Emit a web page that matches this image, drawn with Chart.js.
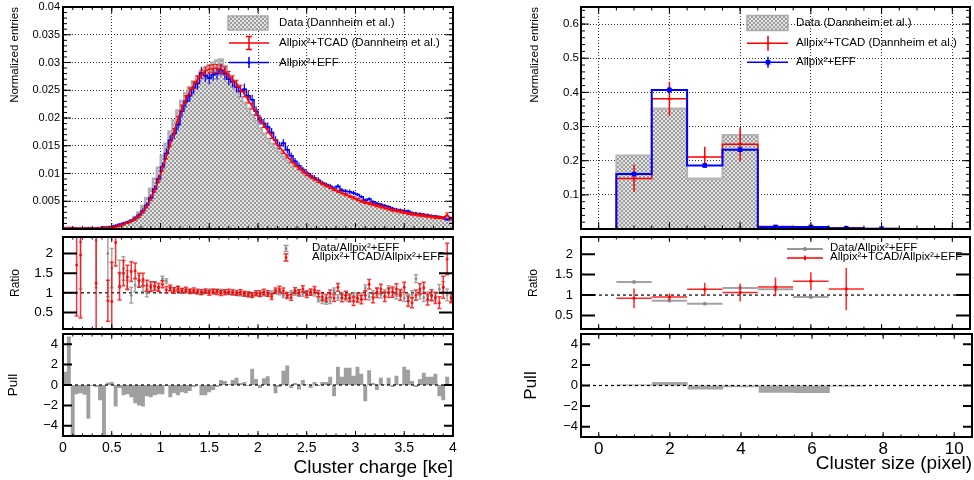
<!DOCTYPE html>
<html>
<head>
<meta charset="utf-8">
<script src="https://cdn.jsdelivr.net/npm/chart.js@4.4.1/dist/chart.umd.min.js"></script>
<style>
  html, body { margin: 0; padding: 0; background: #fff; }
  #wrap { position: relative; width: 974px; height: 480px; overflow: hidden; background: #fff; }
  #wrap canvas { position: absolute; }
</style>
</head>
<body>
<div id="wrap"></div>
<script>
// ---- cluster charge (left column), 100 bins of 0.04 ke from 0 ----
var chargeLow = 0, chargeWidth = 0.04;
var chargeTicks = [0, 0.5, 1, 1.5, 2, 2.5, 3, 3.5, 4];
var chargeLabels = ['0', '0.5', '1', '1.5', '2', '2.5', '3', '3.5', '4'];
var entryTicks = [0.005, 0.01, 0.015, 0.02, 0.025, 0.03, 0.035, 0.04];
var entryLabels = ['0.005', '0.01', '0.015', '0.02', '0.025', '0.03', '0.035', '0.04'];

var dataCharge = [
  0.0001,0.0003,0.0001,0.0001,0.0001,0.0001,0.0001,0.0001,0.0002,0.0002,
  0.0003,0.0004,0.0005,0.0006,0.0008,0.0010,0.0012,0.0016,0.0022,0.0030,
  0.0042,0.0056,0.0073,0.0091,0.0111,0.0132,0.0154,0.0176,0.0196,0.0214,
  0.0231,0.0245,0.0256,0.0266,0.0275,0.0283,0.0289,0.0295,0.0300,0.0304,
  0.0306,0.0294,0.0272,0.0260,0.0249,0.0238,0.0228,0.0217,0.0206,0.0195,
  0.0182,0.0172,0.0163,0.0154,0.0146,0.0139,0.0131,0.0124,0.0118,0.0112,
  0.0107,0.0102,0.0097,0.0093,0.0089,0.0085,0.0081,0.0078,0.0075,0.0072,
  0.0068,0.0066,0.0063,0.0060,0.0058,0.0055,0.0052,0.0050,0.0048,0.0046,
  0.0044,0.0042,0.0040,0.0038,0.0036,0.0034,0.0033,0.0031,0.0030,0.0028,
  0.0027,0.0026,0.0025,0.0024,0.0023,0.0022,0.0021,0.0021,0.0020,0.0019];

var tcadCharge = [
  0.0001,0.0001,0.0001,0.0001,0.0001,0.0001,0.0001,0.0001,0.0001,0.0002,
  0.0002,0.0002,0.0003,0.0004,0.0006,0.0008,0.0011,0.0014,0.0018,0.0023,
  0.0031,0.0040,0.0055,0.0070,0.0088,0.0108,0.0130,0.0153,0.0176,0.0198,
  0.0218,0.0234,0.0248,0.0259,0.0270,0.0279,0.0285,0.0288,0.0289,0.0289,
  0.0288,0.0285,0.0278,0.0270,0.0262,0.0253,0.0243,0.0232,0.0221,0.0210,
  0.0197,0.0187,0.0177,0.0167,0.0157,0.0148,0.0139,0.0131,0.0123,0.0116,
  0.0110,0.0104,0.0099,0.0094,0.0090,0.0086,0.0082,0.0078,0.0075,0.0071,
  0.0068,0.0065,0.0062,0.0059,0.0056,0.0053,0.0050,0.0048,0.0046,0.0044,
  0.0042,0.0040,0.0038,0.0036,0.0034,0.0033,0.0031,0.0030,0.0028,0.0027,
  0.0026,0.0025,0.0024,0.0023,0.0022,0.0021,0.0021,0.0020,0.0026,0.0018];
var tcadChargeErr = [
  0.0001,0.0001,0.0001,0.0001,0.0001,0.0001,0.0001,0.0001,0.0001,0.0001,
  0.0001,0.0001,0.0001,0.0001,0.0001,0.0001,0.0001,0.0001,0.0002,0.0002,
  0.0002,0.0002,0.0003,0.0003,0.0003,0.0004,0.0004,0.0004,0.0005,0.0005,
  0.0005,0.0006,0.0006,0.0006,0.0006,0.0007,0.0007,0.0007,0.0007,0.0007,
  0.0007,0.0007,0.0006,0.0006,0.0006,0.0006,0.0005,0.0005,0.0005,0.0005,
  0.0004,0.0004,0.0004,0.0004,0.0004,0.0003,0.0003,0.0003,0.0003,0.0003,
  0.0003,0.0003,0.0003,0.0002,0.0002,0.0002,0.0002,0.0002,0.0002,0.0002,
  0.0002,0.0002,0.0002,0.0002,0.0002,0.0002,0.0002,0.0002,0.0002,0.0002,
  0.0002,0.0002,0.0002,0.0002,0.0002,0.0002,0.0002,0.0002,0.0002,0.0002,
  0.0002,0.0002,0.0002,0.0002,0.0002,0.0002,0.0002,0.0002,0.0003,0.0002];

var effCharge = [
  0.0001,0.0000,0.0002,0.0001,0.0001,0.0001,0.0002,0.0001,0.0001,0.0002,
  0.0003,0.0003,0.0004,0.0006,0.0008,0.0010,0.0012,0.0015,0.0019,0.0025,
  0.0033,0.0043,0.0056,0.0072,0.0090,0.0112,0.0136,0.0160,0.0172,0.0188,
  0.0212,0.0230,0.0240,0.0254,0.0262,0.0281,0.0276,0.0272,0.0278,0.0280,
  0.0287,0.0280,0.0270,0.0265,0.0256,0.0248,0.0252,0.0240,0.0233,0.0212,
  0.0197,0.0190,0.0184,0.0174,0.0160,0.0150,0.0155,0.0143,0.0132,0.0122,
  0.0114,0.0107,0.0101,0.0096,0.0092,0.0088,0.0083,0.0080,0.0077,0.0073,
  0.0077,0.0070,0.0068,0.0067,0.0065,0.0062,0.0058,0.0052,0.0054,0.0049,
  0.0046,0.0044,0.0042,0.0040,0.0037,0.0035,0.0034,0.0033,0.0032,0.0029,
  0.0028,0.0027,0.0026,0.0025,0.0024,0.0023,0.0022,0.0020,0.0017,0.0020];
var effChargeErr = [
  0.0001,0.0001,0.0001,0.0001,0.0001,0.0001,0.0001,0.0001,0.0001,0.0001,
  0.0001,0.0001,0.0002,0.0002,0.0002,0.0003,0.0003,0.0003,0.0004,0.0004,
  0.0005,0.0005,0.0006,0.0007,0.0007,0.0008,0.0009,0.0009,0.0010,0.0010,
  0.0011,0.0011,0.0011,0.0011,0.0011,0.0011,0.0011,0.0011,0.0011,0.0011,
  0.0011,0.0011,0.0011,0.0010,0.0010,0.0010,0.0010,0.0010,0.0009,0.0009,
  0.0009,0.0008,0.0008,0.0008,0.0007,0.0007,0.0007,0.0007,0.0006,0.0006,
  0.0006,0.0005,0.0005,0.0005,0.0005,0.0005,0.0004,0.0004,0.0004,0.0004,
  0.0004,0.0004,0.0004,0.0004,0.0004,0.0003,0.0003,0.0003,0.0003,0.0003,
  0.0003,0.0003,0.0003,0.0003,0.0003,0.0003,0.0003,0.0003,0.0003,0.0003,
  0.0003,0.0003,0.0003,0.0003,0.0002,0.0002,0.0002,0.0002,0.0002,0.0002];

var ratioTicks = [0.5, 1, 1.5, 2];
var ratioLabels = ['0.5', '1', '1.5', '2'];
var ratioDataEff = [
  null,null,null,null,2.30,null,null,null,2.33,null,
  null,2.00,1.63,null,1.48,1.62,1.32,0.94,1.20,1.30,
  1.16,1.00,1.12,1.18,1.10,1.36,1.30,1.10,1.08,1.12,
  1.07,1.05,1.04,1.02,1.03,1.00,1.03,1.06,1.05,1.06,
  1.05,1.04,1.00,0.98,0.97,0.96,0.95,0.93,0.94,0.96,
  0.95,0.97,0.96,1.00,1.03,1.00,0.93,0.90,1.01,0.99,
  1.02,0.97,1.00,1.01,0.98,0.83,0.79,0.77,0.79,1.06,
  0.88,0.94,0.86,0.87,0.94,0.86,0.92,1.12,0.90,0.98,
  1.03,0.95,1.00,1.10,1.02,0.93,1.00,0.87,0.88,0.96,
  1.36,0.94,0.88,0.92,0.92,0.90,1.10,1.15,0.95,0.90];
var ratioDataEffErr = [
  0,0,0,0,1.2,0,0,0,1.2,0,
  0,1.1,0.5,0,0.35,0.30,0.25,0.20,0.17,0.15,
  0.12,0.10,0.09,0.08,0.07,0.06,0.06,0.05,0.05,0.05,
  0.04,0.04,0.04,0.04,0.04,0.04,0.04,0.04,0.04,0.04,
  0.04,0.04,0.04,0.04,0.04,0.04,0.04,0.04,0.04,0.04,
  0.05,0.05,0.05,0.05,0.05,0.05,0.05,0.05,0.05,0.05,
  0.06,0.06,0.06,0.06,0.06,0.06,0.06,0.06,0.06,0.06,
  0.07,0.07,0.07,0.07,0.07,0.07,0.08,0.08,0.08,0.08,
  0.08,0.08,0.08,0.08,0.09,0.09,0.09,0.09,0.09,0.09,
  0.10,0.10,0.10,0.10,0.11,0.11,0.11,0.13,0.15,0.12];
var ratioTcadEff = [
  null,null,null,1.71,1.96,null,null,null,1.25,null,
  null,0.80,0.78,2.28,1.17,1.50,1.40,1.54,1.56,1.32,
  1.34,1.18,1.16,1.17,1.14,1.22,1.08,1.12,1.06,1.10,
  1.05,1.08,1.04,1.06,1.03,1.02,1.04,1.00,1.03,1.02,
  0.99,1.01,1.03,1.02,1.00,1.02,0.98,0.97,0.94,0.99,
  0.98,1.02,0.98,0.90,1.05,1.10,1.05,0.94,0.88,1.06,
  1.00,1.10,0.96,1.02,1.08,0.98,0.90,0.87,0.98,0.87,
  1.14,0.87,0.94,0.87,0.79,0.87,0.83,0.94,1.22,0.87,
  1.00,1.10,0.90,1.00,1.02,1.10,0.94,1.14,0.79,0.75,
  0.94,1.10,1.13,0.83,0.94,0.87,0.75,1.14,1.86,0.87];
var ratioTcadEffErr = [
  0,0,0,1.3,1.6,0,0,0,1.6,0,
  0,0.52,1.0,0.60,0.35,0.32,0.30,0.25,0.20,0.18,
  0.16,0.14,0.12,0.11,0.10,0.09,0.08,0.07,0.07,0.06,
  0.06,0.06,0.06,0.06,0.06,0.06,0.06,0.06,0.06,0.06,
  0.06,0.06,0.06,0.06,0.06,0.06,0.06,0.06,0.06,0.06,
  0.07,0.07,0.07,0.07,0.07,0.07,0.07,0.07,0.07,0.07,
  0.08,0.08,0.08,0.08,0.08,0.08,0.09,0.09,0.09,0.09,
  0.10,0.10,0.10,0.10,0.11,0.11,0.11,0.11,0.12,0.12,
  0.12,0.12,0.12,0.12,0.13,0.13,0.13,0.13,0.13,0.13,
  0.13,0.13,0.14,0.14,0.14,0.14,0.15,0.28,0.40,0.12];

var pullTicks = [-4, -2, 0, 2, 4];
var pullLabels = ['\u22124', '\u22122', '0', '2', '4'];
var pullCharge = [
  1.3,4.75,-5.5,-0.9,-0.8,-0.95,-3.3,-0.1,-0.2,-1.5,
  -5.5,0.25,0.3,-2.1,-0.3,-1.0,-0.9,-1.2,-1.8,-2.0,
  -2.1,-1.1,-1.2,-1.0,-0.9,-0.9,-0.1,-1.2,-0.8,-1.0,
  -0.7,-0.8,-0.6,-0.2,0.0,-1.0,-1.0,-0.7,-0.5,-0.2,
  0.5,0.4,0.1,0.5,0.7,0.2,0.3,-0.1,1.6,0.6,
  -0.3,0.65,0.85,0.0,-0.8,-0.2,1.4,1.9,-0.3,0.2,
  -0.45,0.5,0.05,-0.3,0.3,-0.1,0.3,0.3,0.8,-1.1,
  1.8,0.8,1.7,1.7,0.9,1.8,1.1,-1.6,1.45,0.2,
  -0.5,0.7,0.05,0.7,-0.2,0.9,0.05,1.8,1.5,0.4,
  -0.2,0.6,1.2,0.8,0.8,1.1,-1.1,-1.5,0.8,0.0];

// ---- cluster size (right column), bins 0..10 ----
var sizeLow = -0.5, sizeWidth = 1;
var sizeTicks = [0, 2, 4, 6, 8, 10];
var sizeLabels = ['0', '2', '4', '6', '8', '10'];
var sizeEntryTicks = [0.1, 0.2, 0.3, 0.4, 0.5, 0.6];
var sizeEntryLabels = ['0.1', '0.2', '0.3', '0.4', '0.5', '0.6'];
var dataSize = [0, 0.215, 0.353, 0.148, 0.275, 0.004, 0.004, 0.002, 0.001, 0, 0];
var tcadSize = [0, 0.148, 0.381, 0.211, 0.248, 0.007, 0.006, 0.003, 0.001, 0, 0];
var tcadSizeErr = [0, 0.040, 0.050, 0.030, 0.050, 0.003, 0.003, 0.002, 0.001, 0, 0];
var effSize = [0, 0.161, 0.407, 0.186, 0.232, 0.006, 0.006, 0.002, 0.001, 0, 0];
var effSizeErr = [0, 0.006, 0.010, 0.006, 0.007, 0.001, 0.001, 0.001, 0.001, 0, 0];
var ratioDataSize = [null, 1.32, 0.86, 0.79, 1.17, 1.14, 0.95, null, null, null, null];
var ratioDataSizeErr = [0, 0.02, 0.01, 0.02, 0.02, 0.04, 0.04, 0, 0, 0, 0];
var ratioTcadSize = [null, 0.92, 0.95, 1.14, 1.06, 1.20, 1.34, 1.15, null, null, null];
var ratioTcadSizeErr = [0, 0.24, 0.09, 0.16, 0.22, 0.23, 0.22, 0.52, 0, 0, 0];
var pullSize = [0, 0.1, 0.35, -0.4, -0.17, -0.7, -0.72, -0.1, 0, 0, 0];

var RED = '#ff0000', BLUE = '#0000ff';

Chart.defaults.font.family = '"Liberation Sans", Arial, Helvetica, sans-serif';
Chart.defaults.color = '#000';
Chart.defaults.animation = false;
Chart.defaults.events = [];

// histogram as one point per low bin edge (plus the last high edge);
// stepped 'before' keeps each bin's value from its low edge to its high edge
function edgePoints(low, width, vals) {
  var pts = vals.map(function (v, i) { return { x: low + i * width, y: v }; });
  pts.push({ x: low + vals.length * width, y: vals[vals.length - 1] });
  return pts;
}
function centerPoints(low, width, vals) {
  return vals.map(function (v, i) { return { x: low + (i + 0.5) * width, y: v }; });
}
function nonZero(vals) {
  return vals.map(function (v) { return v > 0 ? v : null; });
}

var patternCache = {};
function hatchFor(ctx) {
  var key = ctx.canvas.id;
  if (!patternCache[key]) {
    var c = document.createElement('canvas');
    c.width = 4; c.height = 4;
    var g = c.getContext('2d');
    g.fillStyle = '#e3e3e3'; g.fillRect(0, 0, 4, 4);
    g.fillStyle = '#9d9d9d'; g.fillRect(0, 0, 2, 2); g.fillRect(2, 2, 2, 2);
    patternCache[key] = ctx.createPattern(c, 'repeat');
  }
  return patternCache[key];
}
function hatchFill(context) { return hatchFor(context.chart.ctx); }

function fixedTicks(values) {
  return function (axis) { axis.ticks = values.map(function (v) { return { value: v }; }); };
}
function sized(w, h) {
  return function (axis) {
    if (w !== null) axis.width = w;
    if (h !== null) axis.height = h;
    axis.paddingLeft = axis.paddingRight = axis.paddingTop = axis.paddingBottom = 0;
  };
}

function xAxis(min, max, ticks, labels, o) {
  return {
    type: 'linear', min: min, max: max,
    afterBuildTicks: fixedTicks(ticks),
    afterFit: sized(null, o.height),
    grid: { display: !!o.grid, drawTicks: false, color: 'rgba(0,0,0,0.8)', lineWidth: 1 },
    border: { display: false, dash: [1, 2] },
    ticks: {
      display: !!o.labels, autoSkip: false, maxRotation: 0, minRotation: 0,
      padding: o.pad || 4, font: { size: o.font || 13 },
      callback: function (v, i) { return labels[i]; }
    },
    title: o.title ? { display: true, text: o.title, align: 'end', font: { size: 19 },
                       padding: { top: 0, bottom: o.titlePad } } : { display: false }
  };
}
function yAxis(min, max, ticks, labels, o) {
  return {
    type: 'linear', min: min, max: max,
    afterBuildTicks: fixedTicks(ticks),
    afterFit: sized(o.width, null),
    grid: { display: !!o.grid, drawTicks: false, color: 'rgba(0,0,0,0.8)', lineWidth: 1 },
    border: { display: false, dash: [1, 2] },
    ticks: { autoSkip: false, padding: o.pad, font: { size: o.font },
             callback: function (v, i) { return labels[i]; } },
    title: { display: true, text: o.title, align: o.align || 'center', font: { size: o.titleSize },
             padding: { top: o.titlePad, bottom: 0 } }
  };
}

function drawTickSet(ctx, scale, a, spec, horiz) {
  [[spec.minor, spec.minorLen], [spec.major, spec.len]].forEach(function (m) {
    var step = m[0], len = m[1];
    if (!step) return;
    ctx.lineWidth = spec.width || 1;
    ctx.beginPath();
    for (var k = Math.ceil(scale.min / step - 1e-6); k * step <= scale.max + 1e-9; k++) {
      var p = scale.getPixelForValue(k * step);
      if (horiz) {
        ctx.moveTo(p, a.bottom); ctx.lineTo(p, a.bottom - len);
        ctx.moveTo(p, a.top); ctx.lineTo(p, a.top + len);
      } else {
        ctx.moveTo(a.left, p); ctx.lineTo(a.left + len, p);
        ctx.moveTo(a.right, p); ctx.lineTo(a.right - len, p);
      }
    }
    ctx.stroke();
  });
}

function drawMarker(ctx, kind, x, y, s, color) {
  ctx.fillStyle = color;
  ctx.beginPath();
  if (kind === 'square') ctx.rect(x - s, y - s, 2 * s, 2 * s);
  else ctx.arc(x, y, s, 0, Math.PI * 2);
  ctx.fill();
}

function drawLegend(ctx, items) {
  items.forEach(function (it) {
    ctx.save();
    if (it.sym === 'hatch') {
      var h = it.h || 14;
      ctx.fillStyle = hatchFor(ctx);
      ctx.fillRect(it.x1, it.y - h / 2, it.x2 - it.x1, h);
      ctx.strokeStyle = '#ababab'; ctx.lineWidth = 1.5;
      ctx.strokeRect(it.x1, it.y - h / 2, it.x2 - it.x1, h);
    } else {
      ctx.strokeStyle = it.color; ctx.lineWidth = it.lw || 1.5;
      ctx.beginPath();
      if (it.x1 !== undefined) { ctx.moveTo(it.x1, it.y); ctx.lineTo(it.x2, it.y); }
      if (it.err) {
        ctx.moveTo(it.cx, it.y - it.err); ctx.lineTo(it.cx, it.y + it.err);
        if (it.cap) {
          ctx.moveTo(it.cx - it.cap, it.y - it.err); ctx.lineTo(it.cx + it.cap, it.y - it.err);
          ctx.moveTo(it.cx - it.cap, it.y + it.err); ctx.lineTo(it.cx + it.cap, it.y + it.err);
        }
      }
      ctx.stroke();
      if (it.marker) drawMarker(ctx, it.marker, it.cx, it.y, it.ms, it.color);
    }
    ctx.fillStyle = '#000';
    ctx.font = '11.5px "Liberation Sans", Arial, sans-serif';
    ctx.textBaseline = 'middle';
    ctx.fillText(it.text, it.tx, it.ty !== undefined ? it.ty : it.y);
    ctx.restore();
  });
}

// ROOT-like pad: error bars, inner ticks, frame, legend
var rootPad = {
  id: 'rootPad',
  afterDatasetDraw: function (chart, args) {
    var ds = chart.data.datasets[args.index];
    if (!ds.errY && !ds.errX) return;
    var ctx = chart.ctx, a = chart.chartArea;
    var xs = chart.scales.x, ys = chart.scales.y;
    ctx.save();
    ctx.beginPath();
    ctx.rect(a.left, a.top, a.right - a.left, a.bottom - a.top);
    ctx.clip();
    ctx.strokeStyle = ds.errColor;
    ctx.lineWidth = ds.errWidth || 1;
    ds.data.forEach(function (p, i) {
      if (p.y === null || p.y === undefined) return;
      var px = xs.getPixelForValue(p.x), py = ys.getPixelForValue(p.y);
      ctx.beginPath();
      if (ds.errY && ds.errY[i]) {
        var y1 = ys.getPixelForValue(p.y + ds.errY[i]), y2 = ys.getPixelForValue(p.y - ds.errY[i]);
        ctx.moveTo(px, y1); ctx.lineTo(px, y2);
        if (ds.cap) {
          ctx.moveTo(px - ds.cap, y1); ctx.lineTo(px + ds.cap, y1);
          ctx.moveTo(px - ds.cap, y2); ctx.lineTo(px + ds.cap, y2);
        }
      }
      if (ds.errX) {
        ctx.moveTo(xs.getPixelForValue(p.x - ds.errX), py);
        ctx.lineTo(xs.getPixelForValue(p.x + ds.errX), py);
      }
      ctx.stroke();
    });
    ctx.restore();
  },
  afterDraw: function (chart, args, opts) {
    var ctx = chart.ctx, a = chart.chartArea;
    ctx.save();
    ctx.strokeStyle = '#000';
    if (opts.ticksX) drawTickSet(ctx, chart.scales.x, a, opts.ticksX, true);
    if (opts.ticksY) drawTickSet(ctx, chart.scales.y, a, opts.ticksY, false);
    ctx.lineWidth = 2;
    ctx.strokeRect(a.left, a.top, a.right - a.left, a.bottom - a.top);
    ctx.restore();
    if (opts.legend) drawLegend(ctx, opts.legend);
  }
};

function makeChart(id, box, cfg) {
  var cv = document.createElement('canvas');
  cv.id = id;
  cv.width = box.width; cv.height = box.height;
  cv.style.left = box.left + 'px';
  cv.style.top = box.top + 'px';
  document.getElementById('wrap').appendChild(cv);
  return new Chart(cv, {
    type: 'line',
    data: { datasets: cfg.datasets },
    options: {
      responsive: false,
      layout: { padding: cfg.padding },
      scales: { x: cfg.x, y: cfg.y },
      plugins: { legend: { display: false }, tooltip: { enabled: false }, rootPad: cfg.pad }
    },
    plugins: [rootPad]
  });
}

function refLine(min, max, y, order) {
  return { data: [{ x: min, y: y }, { x: max, y: y }], borderColor: '#000', borderWidth: 1.2,
           borderDash: [3, 3], pointRadius: 0, fill: false, order: order };
}

// ---------------- left column ----------------
makeChart('cTL', { left: 0, top: 0, width: 487, height: 233 }, {
  padding: { top: 7, right: 34, left: 0, bottom: 0 },
  datasets: [
    { data: edgePoints(chargeLow, chargeWidth, dataCharge), stepped: 'before', fill: 'origin',
      backgroundColor: hatchFill, borderColor: '#b0b0b0', borderWidth: 2, pointRadius: 0, order: 4 },
    { data: edgePoints(chargeLow, chargeWidth, effCharge), stepped: 'before', fill: false,
      borderColor: BLUE, borderWidth: 1.5, pointRadius: 0, order: 3 },
    { data: centerPoints(chargeLow, chargeWidth, effCharge), showLine: false, pointRadius: 1.1,
      pointBackgroundColor: BLUE, pointBorderWidth: 0, errY: effChargeErr, errColor: BLUE, errWidth: 1.2, order: 2 },
    { data: centerPoints(chargeLow, chargeWidth, tcadCharge), fill: false, borderColor: RED, borderWidth: 1.5,
      pointRadius: 0, errY: tcadChargeErr, errColor: RED, errWidth: 1, cap: 2, order: 1 }
  ],
  x: xAxis(0, 4, chargeTicks, chargeLabels, { height: 1, grid: true }),
  y: yAxis(0, 0.04, entryTicks, entryLabels, { width: 63, grid: true, font: 11, pad: 3,
           title: 'Normalized entries', titleSize: 11.5, titlePad: 8, align: 'end' }),
  pad: {
    ticksX: { major: 0.5, len: 6, minor: 0.1, minorLen: 3, width: 1 },
    ticksY: { major: 0.005, len: 8, minor: 0.001, minorLen: 4, width: 1 },
    legend: [
      { sym: 'hatch', x1: 228, x2: 268, y: 23, h: 14, text: 'Data (Dannheim et al.)', tx: 279 },
      { sym: 'bar', color: RED, lw: 1.5, x1: 229, x2: 269, cx: 249, y: 43, err: 6.5, cap: 3,
        text: 'Allpix\u00b2+TCAD (Dannheim et al.)', tx: 279 },
      { sym: 'bar', color: BLUE, lw: 1.5, x1: 229, x2: 269, cx: 249, y: 62.5, err: 5.5, marker: 'circle', ms: 1.5,
        text: 'Allpix\u00b2+EFF', tx: 279 }
    ]
  }
});

makeChart('cML', { left: 0, top: 233, width: 487, height: 100 }, {
  padding: { top: 1, right: 34, left: 0, bottom: 0 },
  datasets: [
    refLine(0, 4, 1, 5),
    { data: centerPoints(chargeLow, chargeWidth, ratioDataEff), showLine: false, pointRadius: 1.5,
      pointBackgroundColor: 'rgba(128,128,128,0.75)', pointBorderWidth: 0,
      errY: ratioDataEffErr, errColor: 'rgba(128,128,128,0.7)', errWidth: 1.5, cap: 2, order: 2 },
    { data: centerPoints(chargeLow, chargeWidth, ratioTcadEff), showLine: false, pointRadius: 1.5,
      pointBackgroundColor: 'rgba(255,0,0,0.85)', pointBorderWidth: 0,
      errY: ratioTcadEffErr, errColor: 'rgba(255,0,0,0.8)', errWidth: 1.5, cap: 2, order: 1 }
  ],
  x: xAxis(0, 4, chargeTicks, chargeLabels, { height: 1 }),
  y: yAxis(0.08, 2.42, ratioTicks, ratioLabels, { width: 63, font: 13.5, pad: 10,
           title: 'Ratio', titleSize: 12, titlePad: 8 }),
  pad: {
    ticksX: { major: 0.5, len: 5, minor: 0.1, minorLen: 2.5, width: 1 },
    ticksY: { major: 0.5, len: 14, width: 2 },
    legend: [
      { sym: 'bar', color: 'rgba(128,128,128,0.8)', lw: 1.5, cx: 286, y: 15.5, err: 3, cap: 2.5,
        marker: 'circle', ms: 1.5, text: 'Data/Allpix\u00b2+EFF', tx: 312, ty: 14.7 },
      { sym: 'bar', color: 'rgba(255,0,0,0.85)', lw: 1.5, cx: 286, y: 24.5, err: 3.5, cap: 2.5,
        marker: 'circle', ms: 1.5, text: 'Allpix\u00b2+TCAD/Allpix\u00b2+EFF', tx: 312, ty: 23.7 }
    ]
  }
});

makeChart('cBL', { left: 0, top: 333, width: 487, height: 147 }, {
  padding: { top: 1, right: 34, left: 0, bottom: 0 },
  datasets: [
    { data: edgePoints(chargeLow, chargeWidth, pullCharge), stepped: 'before', fill: 'origin',
      backgroundColor: '#a0a0a0', borderColor: 'rgba(0,0,0,0)', borderWidth: 1, pointRadius: 0, order: 2 },
    refLine(0, 4, 0, 1)
  ],
  x: xAxis(0, 4, chargeTicks, chargeLabels, { height: 44, labels: true, font: 14, pad: 4,
           title: 'Cluster charge [ke]', titlePad: 1 }),
  y: yAxis(-5, 5, pullTicks, pullLabels, { width: 63, font: 13, pad: 5,
           title: 'Pull', titleSize: 13.5, titlePad: 5 }),
  pad: {
    ticksX: { major: 0.5, len: 5, minor: 0.1, minorLen: 2.5, width: 1 },
    ticksY: { major: 2, len: 9, width: 2 }
  }
});

// ---------------- right column ----------------
makeChart('cTR', { left: 487, top: 0, width: 487, height: 233 }, {
  padding: { top: 7, right: 2, left: 0, bottom: 0 },
  datasets: [
    { data: edgePoints(sizeLow, sizeWidth, dataSize), stepped: 'before', fill: 'origin',
      backgroundColor: hatchFill, borderColor: '#b4b4b4', borderWidth: 2, pointRadius: 0, order: 5 },
    { data: edgePoints(sizeLow, sizeWidth, tcadSize), stepped: 'before', fill: false,
      borderColor: RED, borderWidth: 1.5, pointRadius: 0, order: 4 },
    { data: edgePoints(sizeLow, sizeWidth, effSize), stepped: 'before', fill: false,
      borderColor: BLUE, borderWidth: 2, pointRadius: 0, order: 3 },
    { data: centerPoints(sizeLow, sizeWidth, nonZero(tcadSize)), showLine: false, pointRadius: 1.5,
      pointBackgroundColor: RED, pointBorderWidth: 0, errY: tcadSizeErr, errColor: RED, errWidth: 1.5, order: 2 },
    { data: centerPoints(sizeLow, sizeWidth, nonZero(effSize)), showLine: false, pointStyle: 'rect',
      pointRadius: 3.3, pointBackgroundColor: BLUE, pointBorderWidth: 0,
      errY: effSizeErr, errColor: BLUE, errWidth: 1.5, order: 1 }
  ],
  x: xAxis(-0.5, 10.5, sizeTicks, sizeLabels, { height: 1, grid: true }),
  y: yAxis(0, 0.65, sizeEntryTicks, sizeEntryLabels, { width: 94, grid: true, font: 11.5, pad: 2,
           title: 'Normalized entries', titleSize: 11.5, titlePad: 41, align: 'end' }),
  pad: {
    ticksX: { major: 2, len: 7, minor: 0.5, minorLen: 3.5, width: 1 },
    ticksY: { major: 0.1, len: 8, minor: 0.02, minorLen: 4, width: 1 },
    legend: [
      { sym: 'hatch', x1: 260, x2: 301, y: 23, h: 15, text: 'Data (Dannheim et al.)', tx: 309 },
      { sym: 'bar', color: RED, lw: 1.5, x1: 260, x2: 301, cx: 281, y: 43.3, err: 7.5, marker: 'circle', ms: 1.5,
        text: 'Allpix\u00b2+TCAD (Dannheim et al.)', tx: 309 },
      { sym: 'bar', color: BLUE, lw: 1.5, x1: 260, x2: 301, cx: 281, y: 62.3, err: 5.5, marker: 'square', ms: 2.3,
        text: 'Allpix\u00b2+EFF', tx: 309 }
    ]
  }
});

makeChart('cMR', { left: 487, top: 233, width: 487, height: 100 }, {
  padding: { top: 1, right: 2, left: 0, bottom: 0 },
  datasets: [
    refLine(-0.5, 10.5, 1, 5),
    { data: centerPoints(sizeLow, sizeWidth, ratioDataSize), showLine: false, pointRadius: 2,
      pointBackgroundColor: 'rgba(140,140,140,0.9)', pointBorderWidth: 0,
      errY: ratioDataSizeErr, errX: 0.5, errColor: 'rgba(140,140,140,0.8)', errWidth: 2, order: 2 },
    { data: centerPoints(sizeLow, sizeWidth, ratioTcadSize), showLine: false, pointRadius: 1.6,
      pointBackgroundColor: RED, pointBorderWidth: 0,
      errY: ratioTcadSizeErr, errX: 0.5, errColor: 'rgba(255,0,0,0.85)', errWidth: 1.5, order: 1 }
  ],
  x: xAxis(-0.5, 10.5, sizeTicks, sizeLabels, { height: 1 }),
  y: yAxis(0.17, 2.42, ratioTicks, ratioLabels, { width: 94, font: 13, pad: 8,
           title: 'Ratio', titleSize: 12, titlePad: 39 }),
  pad: {
    ticksX: { major: 2, len: 5, minor: 0.5, minorLen: 2.5, width: 1 },
    ticksY: { major: 0.5, len: 14, width: 2 },
    legend: [
      { sym: 'bar', color: 'rgba(140,140,140,0.9)', lw: 2, x1: 300, x2: 336, cx: 318, y: 16, err: 2,
        marker: 'circle', ms: 2, text: 'Data/Allpix\u00b2+EFF', tx: 343, ty: 15 },
      { sym: 'bar', color: RED, lw: 1.5, x1: 300, x2: 336, cx: 318, y: 25, err: 2.5,
        marker: 'circle', ms: 1.5, text: 'Allpix\u00b2+TCAD/Allpix\u00b2+EFF', tx: 343, ty: 24 }
    ]
  }
});

makeChart('cBR', { left: 487, top: 333, width: 487, height: 147 }, {
  padding: { top: 1, right: 2, left: 0, bottom: 0 },
  datasets: [
    { data: edgePoints(sizeLow, sizeWidth, pullSize), stepped: 'before', fill: 'origin',
      backgroundColor: '#a4a4a4', borderColor: 'rgba(0,0,0,0)', borderWidth: 1, pointRadius: 0, order: 2 },
    refLine(-0.5, 10.5, 0, 1)
  ],
  x: xAxis(-0.5, 10.5, sizeTicks, sizeLabels, { height: 43, labels: true, font: 17, pad: 2,
           title: 'Cluster size (pixel)', titlePad: 5 }),
  y: yAxis(-5, 5, pullTicks, pullLabels, { width: 94, font: 13, pad: 3,
           title: 'Pull', titleSize: 17, titlePad: 34 }),
  pad: {
    ticksX: { major: 2, len: 5, minor: 0.5, minorLen: 2.5, width: 1 },
    ticksY: { major: 2, len: 9, width: 2 }
  }
});
</script>
</body>
</html>
